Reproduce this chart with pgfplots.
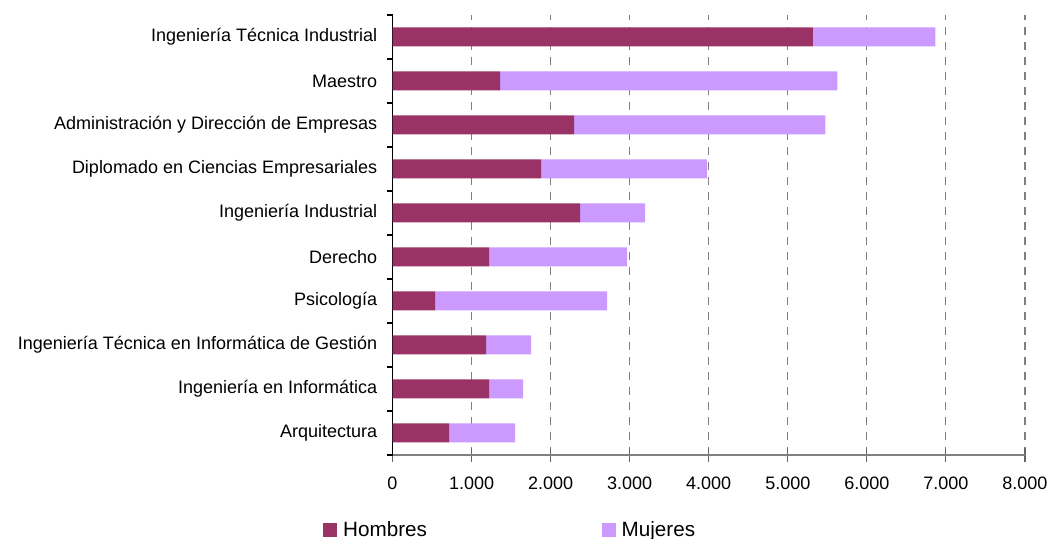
\documentclass[border=0pt]{standalone}
\usepackage{pgfplots}
\pgfplotsset{compat=1.18}
\usepackage{fontspec}
\setmainfont{Liberation Sans}
\definecolor{hom}{HTML}{993366}
\definecolor{muj}{HTML}{CC99FF}
\begin{document}
\begin{tikzpicture}
\useasboundingbox (-294.4pt,-63pt) rectangle (490.9pt,341.25pt);
\begin{axis}[
  scale only axis, width=474.4pt, height=330pt,
  at={(0pt,0pt)}, anchor=south west,
  xbar stacked, bar width=14.25pt,
  xmin=0, xmax=8000, ymin=-0.5, ymax=9.5,
  axis x line*=bottom, axis y line*=left,
  x axis line style={draw=gray, line width=1.4pt},
  y axis line style={draw=black, line width=1pt},
  xtick={0,1000,...,8000},
  xtick align=center,
  major tick length=10.5pt,
  minor tick length=4.5pt,
  xtick style={draw=gray!80!black, line width=0.8pt},
  ytick={0,...,9},
  minor ytick={-0.5,0.5,...,9.5},
  ytick align=outside,
  major y tick style={draw=none},
  minor y tick style={draw=black, line width=0.8pt},
  yticklabels={Arquitectura, Ingeniería en Informática, Ingeniería Técnica en Informática de Gestión, Psicología, Derecho, Ingeniería Industrial, Diplomado en Ciencias Empresariales, Administración y Dirección de Empresas, Maestro, Ingeniería Técnica Industrial},
  yticklabel style={font=\fontsize{13.5}{16}\selectfont, xshift=2.5pt},
  xticklabel style={font=\fontsize{13.5}{16}\selectfont, yshift=-8pt, /pgf/number format/1000 sep={.}},
  /pgf/number format/assume math mode=true,
  scaled x ticks=false,
  xmajorgrids,
  major x grid style={draw=gray, line width=0.8pt, dash pattern=on 6pt off 5.25pt},
  legend style={draw=none, fill=none, inner sep=0pt, at={(rel axis cs:-0.11,-0.17)}, anchor=west,
    font=\fontsize{15.5}{18}\selectfont},
  legend columns=2,
  legend cell align=left,
  /tikz/every even column/.append style={column sep=129pt},
  legend image code/.code={\fill[#1] (0pt,-5.25pt) rectangle (10.5pt,5.25pt); \path (13pt,0pt);},
]
\addplot[fill=hom, draw=none] coordinates {
(715,0) (1222,1) (1184,2) (538,3) (1222,4) (2373,5) (1880,6) (2297,7) (1361,8) (5316,9)};
\addplot[fill=muj, draw=none] coordinates {
(836,0) (430,1) (569,2) (2177,3) (1746,4) (823,5) (2101,6) (3178,7) (4266,8) (1551,9)};
\legend{Hombres, Mujeres}
\end{axis}
\end{tikzpicture}
\end{document}
